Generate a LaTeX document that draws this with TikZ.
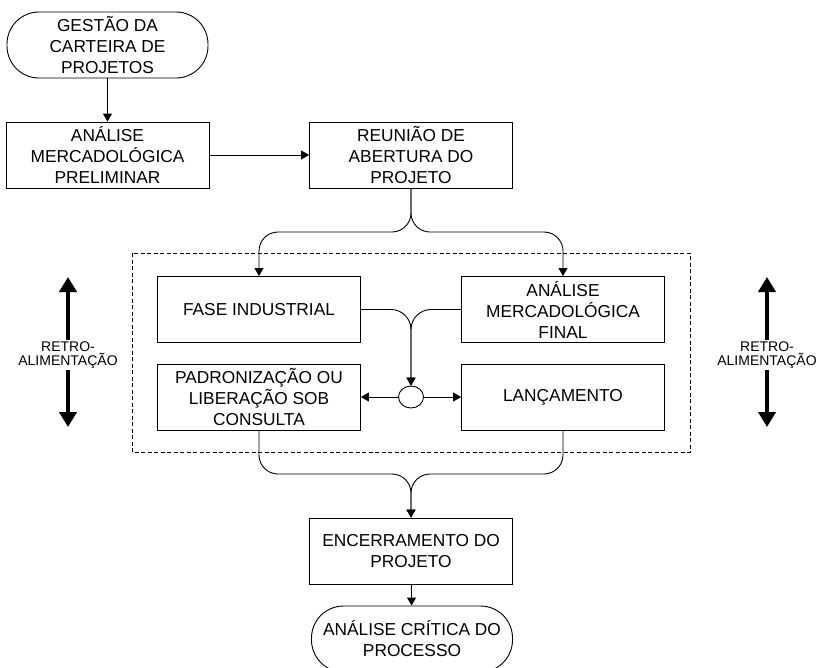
\documentclass[tikz,border=0pt]{standalone}
\usepackage{fontspec}
\setmainfont{Liberation Sans}
\usetikzlibrary{arrows.meta,shapes.geometric}

\begin{document}
\begin{tikzpicture}
  [x=1pt,y=-1pt,line width=0.9pt,
   every node/.style={align=center,font=\fontsize{17.3}{21}\selectfont},
   box/.style={draw,minimum width=203pt,minimum height=66pt,inner sep=2pt},
   term/.style={draw,rounded corners=32pt,minimum width=201pt,minimum height=66pt,inner sep=2pt},
   arr/.style={-{Triangle[length=8pt,width=9pt]}},
   fb/.style={line width=4pt,-{Triangle[length=15pt,width=17pt]}},
   retro/.style={inner sep=1pt,font=\fontsize{14}{14}\selectfont}]
  \useasboundingbox (0,0) rectangle (818,667);
  \node[term] (gest) at (107.5,45) {GESTÃO DA\\CARTEIRA DE\\PROJETOS};
  \node[box] (prel) at (107.5,155) {ANÁLISE\\MERCADOLÓGICA\\PRELIMINAR};
  \node[box] (reun) at (411,155) {REUNIÃO DE\\ABERTURA DO\\PROJETO};
  \node[box] (fase) at (259,309.5) {FASE INDUSTRIAL};
  \node[box] (finl) at (563,309.5) {ANÁLISE\\MERCADOLÓGICA\\FINAL};
  \node[box] (padr) at (259,397) {PADRONIZAÇÃO OU\\LIBERAÇÃO SOB\\CONSULTA};
  \node[box] (lanc) at (563,397) {LANÇAMENTO};
  \node[draw,ellipse,minimum width=25pt,minimum height=22pt,inner sep=0pt] (circ) at (411,397) {};
  \node[box] (ence) at (411,551) {ENCERRAMENTO DO\\PROJETO};
  \node[term] (anal) at (412,639) {ANÁLISE CRÍTICA DO\\PROCESSO};
  \node[retro] (retL) at (68,355) {RETRO-\\ALIMENTAÇÃO};
  \node[retro] (retR) at (767,355) {RETRO-\\ALIMENTAÇÃO};
  \coordinate (split) at (411,232);
  \coordinate (join) at (411,474);
  \coordinate (topL) at (68,277);
  \coordinate (botL) at (68,427);
  \coordinate (topR) at (767,277);
  \coordinate (botR) at (767,427);
  \draw[dash pattern=on 4pt off 2.5pt] (132,253) rectangle (690,452);
  \foreach \from/\to in {gest/prel,prel/reun,circ/padr,circ/lanc,ence/anal}
    \draw[arr] (\from) -- (\to);
  \foreach \to in {fase,finl}
    \draw[arr,rounded corners=19pt] (reun.south) |- (\to.north |- split) -- (\to.north);
  \foreach \from in {fase.east,finl.west}
    \draw[arr,rounded corners=20pt] (\from) -| (circ.north);
  \foreach \from in {padr,lanc}
    \draw[arr,rounded corners=19pt] (\from.south) |- (ence.north |- join) -- (ence.north);
  \foreach \from/\to in {retL/topL,retL/botL,retR/topR,retR/botR}
    \draw[fb] (\from) -- (\to);
\end{tikzpicture}
\end{document}
